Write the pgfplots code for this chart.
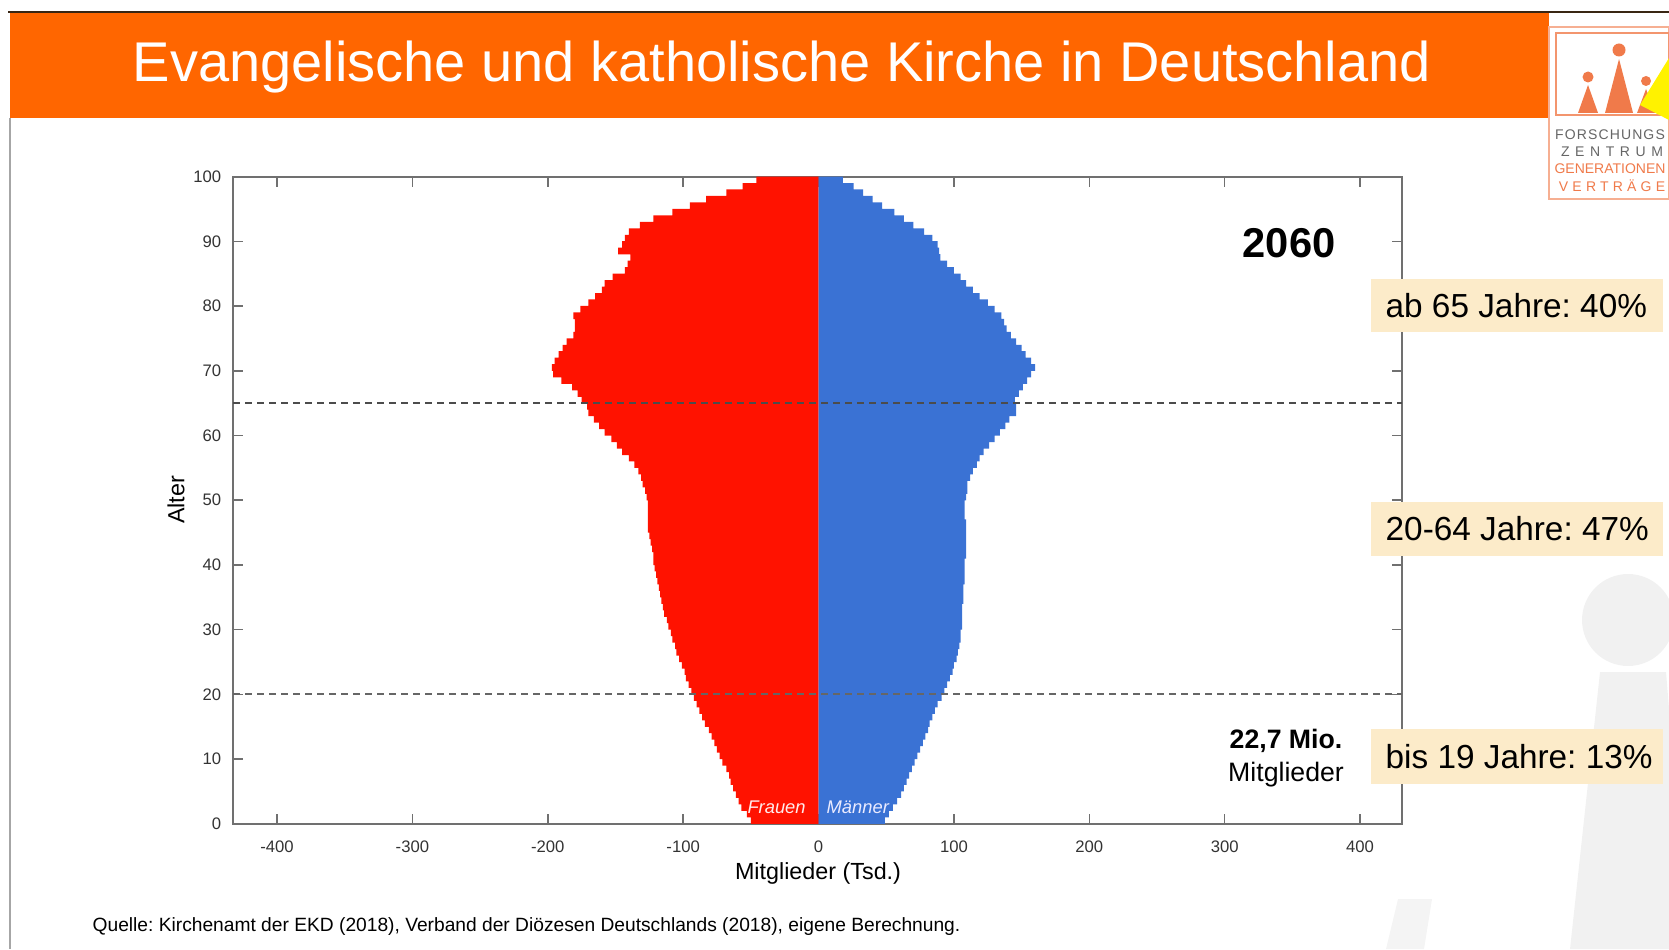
\documentclass[border=0pt]{standalone}
\usepackage{fontspec}
\setmainfont{Liberation Sans}
\usepackage{pgfplots}
\usepackage{pgfplotstable}
\pgfplotsset{compat=1.18}
\definecolor{banner}{HTML}{FF6600}
\definecolor{fem}{HTML}{FF1200}
\definecolor{mal}{HTML}{3A72D4}
\definecolor{boxbg}{HTML}{FCEBC9}
\definecolor{axgray}{HTML}{707070}
\definecolor{logoor}{HTML}{F07A4A}

% members in thousands by age (bar centre), women negative
\pgfplotstableread{
age women men
0.5 -50 49
1.5 -53 52
2.5 -57 55
3.5 -59 58
4.5 -61 61
5.5 -63 63
6.5 -65 65
7.5 -66 67
8.5 -68 69
9.5 -71 71
10.5 -73 73
11.5 -75 75
12.5 -77 77
13.5 -79 79
14.5 -81 81
15.5 -84 82
16.5 -86 84
17.5 -88 86
18.5 -90 88
19.5 -92 91
20.5 -94 93
21.5 -96 95
22.5 -98 97
23.5 -99 99
24.5 -101 100
25.5 -103 102
26.5 -105 103
27.5 -106 104
28.5 -108 105
29.5 -109 105
30.5 -111 106
31.5 -112 106
32.5 -114 106
33.5 -115 106
34.5 -116 107
35.5 -117 107
36.5 -118 107
37.5 -119 108
38.5 -120 108
39.5 -121 108
40.5 -122 108
41.5 -122 109
42.5 -123 109
43.5 -124 109
44.5 -125 109
45.5 -126 109
46.5 -126 109
47.5 -126 108
48.5 -126 108
49.5 -126 108
50.5 -127 109
51.5 -128 110
52.5 -130 110
53.5 -131 112
54.5 -133 114
55.5 -136 117
56.5 -140 119
57.5 -145 122
58.5 -149 126
59.5 -153 130
60.5 -158 134
61.5 -162 138
62.5 -166 141
63.5 -170 146
64.5 -171 146
65.5 -175 145
66.5 -178 148
67.5 -182 151
68.5 -190 154
69.5 -196 157
70.5 -197 160
71.5 -195 157
72.5 -192 153
73.5 -189 150
74.5 -186 146
75.5 -181 142
76.5 -180 139
77.5 -180 137
78.5 -181 135
79.5 -176 130
80.5 -170 125
81.5 -165 119
82.5 -160 114
83.5 -158 109
84.5 -152 105
85.5 -143 100
86.5 -141 95
87.5 -139 90
88.5 -148 89
89.5 -145 88
90.5 -143 84
91.5 -140 78
92.5 -132 70
93.5 -122 63
94.5 -108 56
95.5 -95 47
96.5 -83 40
97.5 -68 33
98.5 -56 26
99.5 -46 18
}\pyramid

\begin{document}
\frenchspacing
\begin{tikzpicture}
\path[use as bounding box] (0,0) rectangle (500.7pt,284.7pt);
% slide decoration, 1 unit = 1 px of the 1669x949 reference, y upwards
\begin{scope}[x=0.3pt,y=0.3pt]
\fill[gray!11] (1628,329) circle (46);
\fill[gray!11] (1600,277) -- (1666,277) -- (1669,240) -- (1669,0) -- (1570,0) -- cycle;
\fill[gray!9] (1398,50) -- (1432,50) -- (1424,0) -- (1386,0) -- cycle;
\fill[banner] (10,831) rectangle (1549,936);
\draw[black!70!brown, line width=0.6pt] (8,936.5) -- (1669,936.5);
\draw[gray!70, line width=0.5pt] (10,831) -- (10,0);
\node[text=white, font=\fontsize{16.8}{18}\selectfont] at (782,882)
  {Evangelische und katholische Kirche in Deutschland};
\end{scope}

\begin{axis}[at={(69.9pt,37.6pt)}, anchor=south west,
 scale only axis, width=350.7pt, height=194.1pt,
 xmin=-432.5, xmax=431, ymin=0, ymax=100,
 xtick={-400,-300,...,400},
 xticklabels={-400,-300,-200,-100,0,100,200,300,400},
 ytick={0,10,...,100},
 /pgf/number format/assume math mode=true,
 tick align=inside, major tick length=3pt,
 tick style={axgray, line width=0.45pt},
 axis line style={axgray, line width=0.6pt},
 ticklabel style={font=\fontsize{5}{6}\selectfont, text=black!80},
 xticklabel style={yshift=-1.5pt}]
\addplot[xbar, bar width=1.04, bar shift=0pt, fill=fem, draw=none]
 table[x=women, y=age] {\pyramid};
\addplot[xbar, bar width=1.04, bar shift=0pt, fill=mal, draw=none]
 table[x=men, y=age] {\pyramid};
\addplot[black!70, line width=0.6pt, dash pattern=on 2.2pt off 1.4pt]
 coordinates {(-432.5,65) (431,65)};
\addplot[black!60, line width=0.6pt, dash pattern=on 2.2pt off 1.4pt]
 coordinates {(-432.5,20) (431,20)};
\node[text=white!92!red, font=\fontsize{5.5}{6}\itshape] at (axis cs:-31,2.5) {Frauen};
\node[text=white!92!blue, font=\fontsize{5.5}{6}\itshape] at (axis cs:29,2.5) {Männer};
\end{axis}

\begin{scope}[x=0.3pt,y=0.3pt]
\node[rotate=90, font=\fontsize{7}{8}\selectfont] at (176,449) {Alter};
\node[font=\fontsize{7}{8}\selectfont] at (818,76) {Mitglieder (Tsd.)};
\node[anchor=west, font=\fontsize{5.76}{7}\selectfont, inner sep=0pt] at (92,22)
  {Quelle: Kirchenamt der EKD (2018), Verband der Diözesen Deutschlands (2018), eigene Berechnung.};
\node[font=\bfseries\fontsize{12.5}{14}\selectfont] at (1289,706) {2060};
\node[font=\bfseries\fontsize{8}{9}\selectfont] at (1286,208) {22,7 Mio.};
\node[font=\fontsize{8}{9}\selectfont] at (1286,174) {Mitglieder};
% share boxes
\fill[boxbg] (1371,617) rectangle (1663,670);
\fill[boxbg] (1371,393) rectangle (1663,447);
\fill[boxbg] (1371,165) rectangle (1663,220);
\node[anchor=west, font=\fontsize{10}{11}\selectfont, inner sep=0pt] at (1385,643.5) {ab 65 Jahre: 40\%};
\node[anchor=west, font=\fontsize{10}{11}\selectfont, inner sep=0pt] at (1385,420) {20-64 Jahre: 47\%};
\node[anchor=west, font=\fontsize{10}{11}\selectfont, inner sep=0pt] at (1385,192.5) {bis 19 Jahre: 13\%};
% logo
\fill[white] (1549,750) rectangle (1669,922);
\draw[logoor!60, line width=0.5pt] (1549,750) rectangle (1669,922);
\draw[logoor!80, line width=0.4pt] (1556,834) rectangle (1669,916);
\fill[logoor] (1588,872) circle (5.5);
\fill[logoor] (1588,864) -- (1578,836) -- (1598,836) -- cycle;
\fill[logoor] (1619,899) circle (6.5);
\fill[logoor] (1619,890) -- (1605,836) -- (1633,836) -- cycle;
\fill[logoor] (1646,868) circle (5);
\fill[logoor] (1646,860) -- (1637,836) -- (1655,836) -- cycle;
\fill[yellow] (1669,891) -- (1640,844) -- (1669,829) -- cycle;
\node[text=black!60, font=\fontsize{4.2}{5}\selectfont\addfontfeature{LetterSpace=8}] at (1610,814) {FORSCHUNGS};
\node[text=black!60, font=\fontsize{4.2}{5}\selectfont\addfontfeature{LetterSpace=40}] at (1612,797) {ZENTRUM};
\node[text=logoor, font=\fontsize{4.2}{5}\selectfont] at (1610,780) {GENERATIONEN};
\node[text=logoor, font=\fontsize{4.2}{5}\selectfont\addfontfeature{LetterSpace=30}] at (1612,763) {VERTRÄGE};
\end{scope}
\end{tikzpicture}
\end{document}
